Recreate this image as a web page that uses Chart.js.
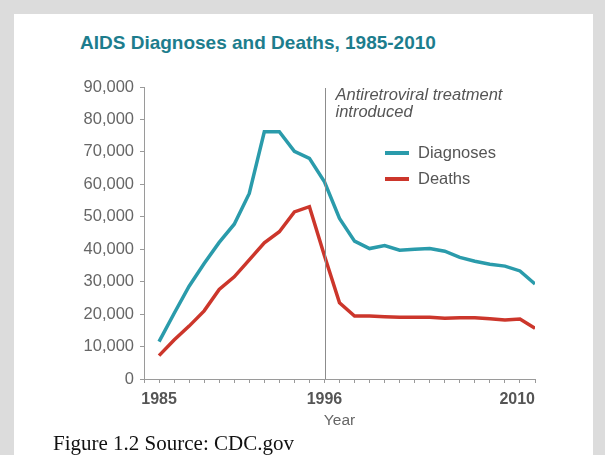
<!DOCTYPE html>
<html>
<head>
<meta charset="utf-8">
<script src="https://cdn.jsdelivr.net/npm/chart.js@4"></script>
<style>
  html, body { margin: 0; padding: 0; width: 605px; height: 455px; overflow: hidden; background: #dcdcdc; }
  #frame { position: absolute; left: 14px; top: 14px; width: 579px; height: 441px; background: #fff; }
  #wrap { position: absolute; left: 0; top: 0; width: 605px; height: 455px; }
  #title { position: absolute; left: 80px; top: 32px; font: bold 19px "Liberation Sans", Arial, sans-serif; color: #1d7d8d; white-space: nowrap; }
  #caption { position: absolute; left: 53px; top: 431px; font: 21px "Liberation Serif", "Times New Roman", serif; color: #111; white-space: nowrap; }
</style>
</head>
<body>
<div id="frame"></div>
<div id="title">AIDS Diagnoses and Deaths, 1985-2010</div>
<div id="wrap"><canvas id="aidsChart" width="605" height="455"></canvas></div>
<div id="caption">Figure 1.2 Source: CDC.gov</div>
<script>
const years = [1985, 1986, 1987, 1988, 1989, 1990, 1991, 1992, 1993, 1994, 1995, 1996, 1997,
               1998, 1999, 2000, 2001, 2002, 2003, 2004, 2005, 2006, 2007, 2008, 2009, 2010];
const diagnoses = [11500, 20200, 28600, 35600, 42100, 47700, 57200, 76200, 76200, 70200, 68000, 60800, 49500,
                   42500, 40200, 41100, 39700, 40000, 40200, 39400, 37500, 36300, 35400, 34800, 33300, 29300];
const deaths = [7200, 12000, 16300, 21000, 27600, 31500, 36700, 42000, 45400, 51500, 53100, 38000, 23500,
                19400, 19400, 19200, 19000, 19000, 19000, 18700, 18900, 18900, 18600, 18200, 18500, 15600];
const labelledYears = [1985, 1996, 2010];
const treatmentYear = 1996;
const treatmentNote = ["Antiretroviral treatment", "introduced"];

const SANS = '"Liberation Sans", Arial, sans-serif';

// vertical marker, note and legend drawn on top of the chart
const annotations = {
  id: "annotations",
  afterDraw(chart) {
    const { ctx, chartArea, scales } = chart;
    const x = Math.round(scales.x.getPixelForValue(treatmentYear)) + 1.5;
    ctx.save();
    ctx.strokeStyle = "#8c8c8c";
    ctx.lineWidth = 1;
    ctx.beginPath();
    ctx.moveTo(x, chartArea.top + 1);
    ctx.lineTo(x, chartArea.bottom);
    ctx.stroke();

    ctx.fillStyle = "#555";
    ctx.font = "italic 16.5px " + SANS;
    ctx.textBaseline = "middle";
    treatmentNote.forEach((t, i) => ctx.fillText(t, x + 10, 95 + i * 17));

    ctx.font = "16.5px " + SANS;
    chart.data.datasets.forEach((ds, i) => {
      const y = 153 + i * 26;
      ctx.strokeStyle = ds.borderColor;
      ctx.lineWidth = 4;
      ctx.beginPath();
      ctx.moveTo(385, y);
      ctx.lineTo(409, y);
      ctx.stroke();
      ctx.fillStyle = "#555";
      ctx.fillText(ds.label, 418, y);
    });
    ctx.restore();
  }
};

new Chart(document.getElementById("aidsChart"), {
  type: "line",
  data: {
    datasets: [{
      label: "Diagnoses",
      data: years.map((y, i) => ({ x: y, y: diagnoses[i] })),
      borderColor: "#2a9bab",
      borderWidth: 3.5,
      pointRadius: 0
    }, {
      label: "Deaths",
      data: years.map((y, i) => ({ x: y, y: deaths[i] })),
      borderColor: "#cc362b",
      borderWidth: 3.5,
      pointRadius: 0
    }]
  },
  options: {
    responsive: false,
    animation: false,
    layout: { padding: { left: 80, top: 87, right: 70, bottom: 25 } },
    plugins: { legend: { display: false }, tooltip: { enabled: false } },
    scales: {
      x: {
        type: "linear",
        min: 1984,
        max: 2010,
        afterFit: s => { s.height = 51; },
        border: { color: "#9a9a9a" },
        grid: { drawOnChartArea: false, tickLength: 4, tickColor: "#9a9a9a" },
        ticks: {
          stepSize: 1,
          autoSkip: false,
          maxRotation: 0,
          align: "inner",
          padding: 7,
          color: "#555",
          font: { family: SANS, size: 16, weight: "bold" },
          callback: v => labelledYears.includes(v) ? String(v) : ""
        },
        title: { display: true, text: "Year", color: "#666", font: { family: SANS, size: 15.5 }, padding: { top: 0, bottom: 0 } }
      },
      y: {
        min: 0,
        max: 90000,
        afterFit: s => { s.width = 64; },
        border: { color: "#9a9a9a" },
        grid: { drawOnChartArea: false, tickLength: 4, tickColor: "#9a9a9a" },
        ticks: {
          stepSize: 10000,
          padding: 6,
          color: "#666",
          font: { family: SANS, size: 16.5 },
          callback: v => v.toLocaleString("en-US")
        }
      }
    }
  },
  plugins: [annotations]
});
</script>
</body>
</html>
